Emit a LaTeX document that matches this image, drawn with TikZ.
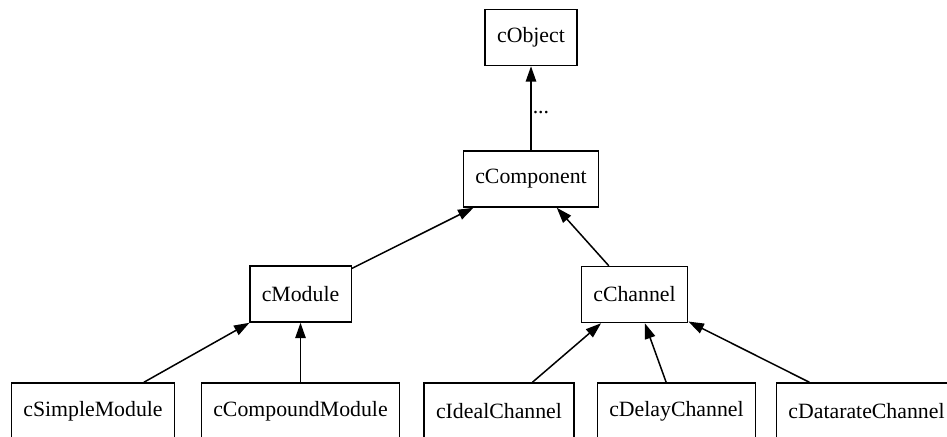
\documentclass[tikz,border=0pt]{standalone}
\usepackage{fontspec}
\setmainfont{Liberation Serif}
\usepackage{tikz}
\usetikzlibrary{arrows.meta,positioning,calc}

\begin{document}
\begin{tikzpicture}[x=1bp, y=-1bp,
  cls/.style={draw, line width=1.5bp, minimum height=56bp, inner xsep=12bp,
    font=\fontsize{21.8bp}{26bp}\selectfont},
  inherit/.style={line width=1.5bp, -{Triangle[length=15.5bp, width=10.5bp]}}]
% Page
\clip (0,0) rectangle (947,437);

% Classes
\node[cls] (obj) at (531,37.5) {cObject};
\node[cls] (comp) at (531,179) {cComponent};
\node[cls] (mod) at (300.5,294) {cModule};
\node[cls] (chan) at (634.5,294.5) {cChannel};
\node[cls] (simple) at (93,411) {cSimpleModule};
\node[cls] (compound) at (300.5,411) {cCompoundModule};
\node[cls] (ideal) at (499,411) {cIdealChannel};
\node[cls] (delay) at (676.5,411) {cDelayChannel};
\node[cls] (datarate) at (866.5,411) {cDatarateChannel};

% Inheritance
\draw[inherit] (comp) -- (obj) node[pos=0.45, right, inner sep=1bp,
  font=\fontsize{21.8bp}{26bp}\selectfont] (dots) {...};
\draw[inherit] (mod) -- (comp);
\draw[inherit] (chan) -- (comp);
\draw[inherit] (simple) -- (mod);
\draw[inherit] (compound) -- (mod);
\draw[inherit] (ideal) -- (chan);
\draw[inherit] (delay) -- (chan);
\draw[inherit] (datarate) -- (chan);

\end{tikzpicture}
\end{document}
